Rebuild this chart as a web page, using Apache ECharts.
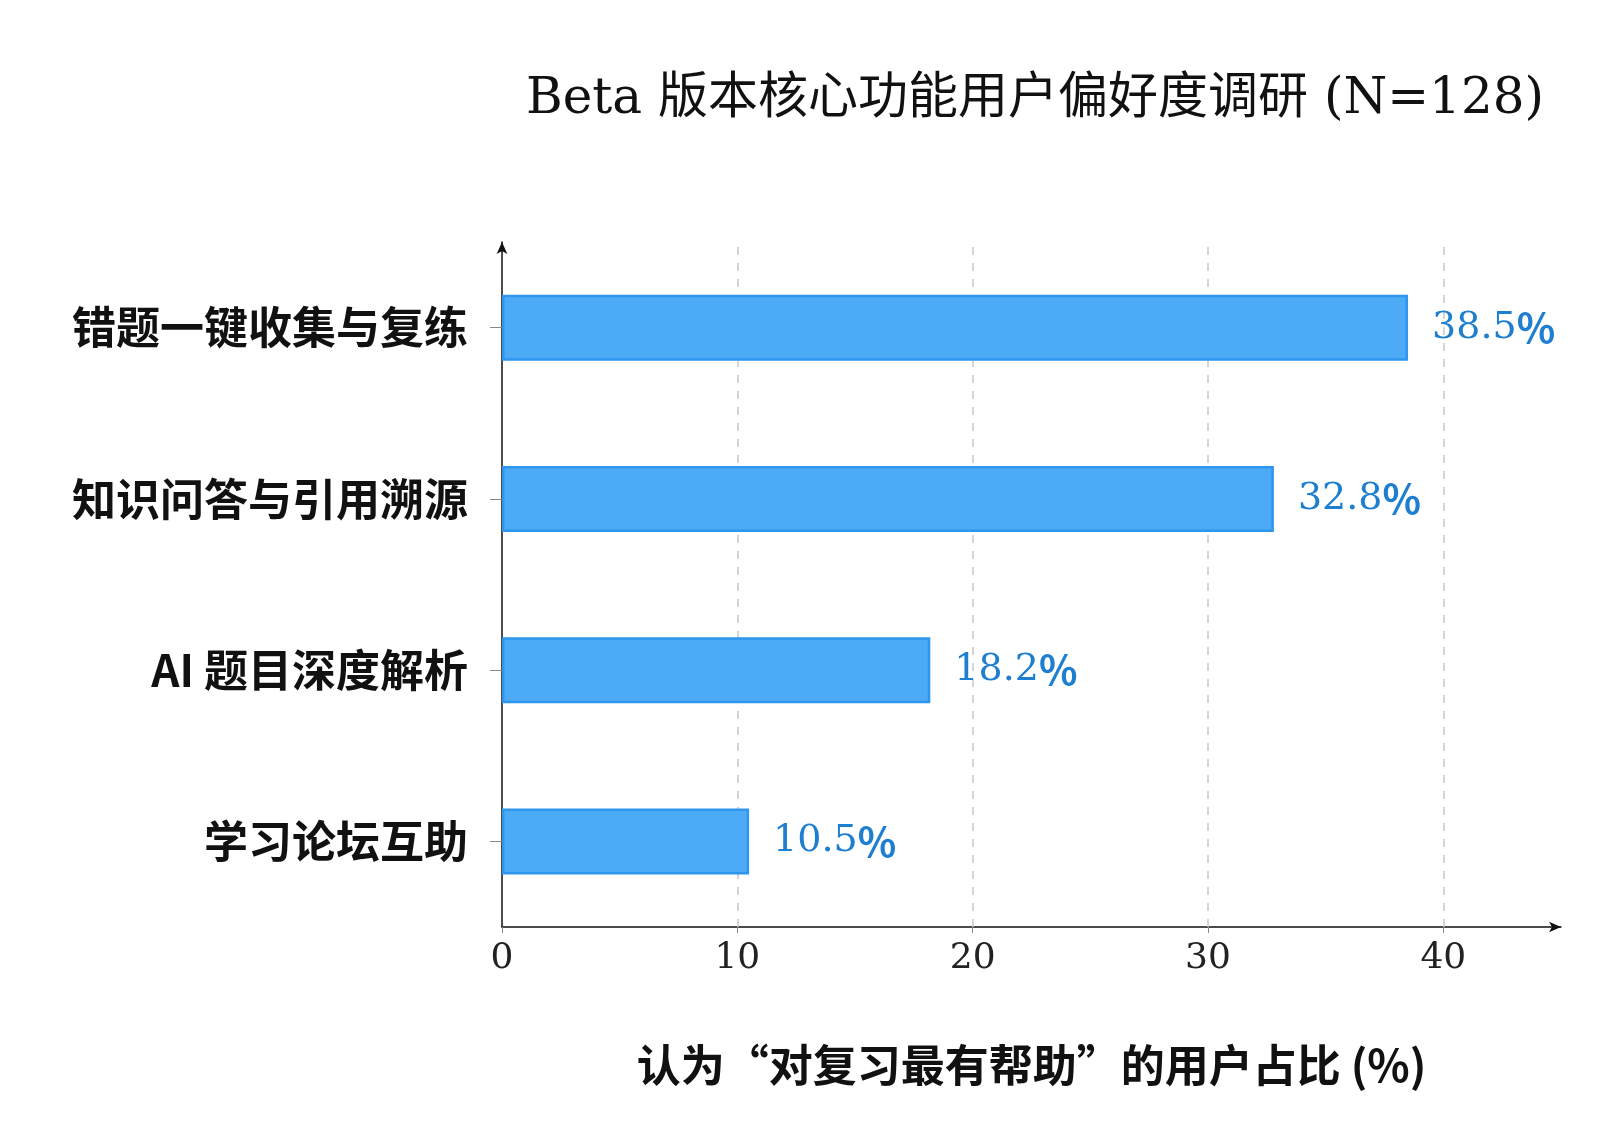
<!DOCTYPE html>
<html>
<head>
<meta charset="utf-8">
<title>Beta 功能偏好</title>
<style>html,body{margin:0;padding:0;background:#fff}</style>
</head>
<body>
<div id="main" style="width:1623px;height:1138px;"></div>
<script src="https://cdn.jsdelivr.net/npm/echarts@6/dist/echarts.min.js"></script>
<script>
// data
var categories = ['学习论坛互助', 'AI 题目深度解析', '知识问答与引用溯源', '错题一键收集与复练'];
var shares = [10.5, 18.2, 32.8, 38.5];
var xTicks = [0, 10, 20, 30, 40];
var gridTicks = [10, 20, 30, 40];

var serif = '"DejaVu Serif", "Liberation Serif", "Noto Sans CJK SC", serif';
var sans = '"Noto Sans CJK SC", "Noto Sans", sans-serif';

var myChart = echarts.init(document.getElementById('main'));
var option = {
    backgroundColor: '#fff',
    animation: false,
    title: {
        text: 'Beta 版本核心功能用户偏好度调研 (N=128)',
        left: 1030, top: 70, textAlign: 'center',
        textStyle: { fontFamily: serif, fontSize: 50, fontWeight: 'normal', color: '#111' }
    },
    grid: { left: 502, right: 62, top: 242, bottom: 211, containLabel: false },
    xAxis: {
        type: 'value', min: 0, max: 45, interval: 10,
        name: '认为“对复习最有帮助”的用户占比 (%)',
        nameLocation: 'middle', nameGap: 116,
        nameTextStyle: { fontFamily: sans, fontSize: 44, fontWeight: 'bold', color: '#111' },
        axisLine: { show: true, symbol: ['none', 'arrow'], symbolSize: [8, 12], lineStyle: { color: '#111', width: 1.5 } },
        axisTick: { show: true, length: 6, lineStyle: { color: '#888' } },
        axisLabel: {
            showMaxLabel: false, margin: 14, fontFamily: serif, fontSize: 36, color: '#222',
            formatter: function (v) { return xTicks.indexOf(v) >= 0 ? String(v) : ''; }
        },
        splitLine: { show: false }
    },
    yAxis: {
        type: 'category', data: categories,
        axisLine: { show: true, onZero: false, symbol: ['none', 'arrow'], symbolSize: [8, 12], lineStyle: { color: '#111', width: 1.5 } },
        axisTick: { show: true, alignWithLabel: true, length: 12, lineStyle: { color: '#888' } },
        axisLabel: { margin: 34, fontFamily: sans, fontSize: 44, fontWeight: 'bold', color: '#111' },
        splitLine: { show: false }
    },
    series: [{
        type: 'bar',
        data: shares,
        barWidth: 66,
        z: 3,
        itemStyle: { color: '#4DABF5', borderColor: '#2E96EE', borderWidth: 2.5 },
        label: {
            show: true, position: 'right', distance: 24,
            formatter: function (p) { return '{n|' + p.value.toFixed(1) + '}{p|%}'; },
            rich: {
                n: { fontFamily: serif, fontSize: 38, color: '#1E7FD0' },
                p: { fontFamily: sans, fontSize: 40, fontWeight: 'bold', color: '#1E7FD0' }
            }
        },
        markLine: {
            silent: true, symbol: 'none', z: 1,
            label: { show: false },
            lineStyle: { type: [8, 8], color: '#c8c8c8', width: 1.5 },
            data: gridTicks.map(function (v) { return { xAxis: v }; })
        }
    }]
};
myChart.setOption(option);
</script>
</body>
</html>
